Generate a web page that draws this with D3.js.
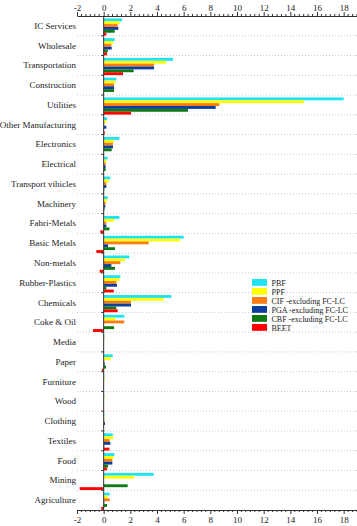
<!DOCTYPE html>
<html>
<head>
<meta charset="utf-8">
<script src="https://cdn.jsdelivr.net/npm/d3@7"></script>
<style>
  body { margin: 0; background: #fff; }
  svg { display: block; font-family: "Liberation Serif", "Times New Roman", serif; }
</style>
</head>
<body>
<div id="chart"></div>
<script>
// sectors, top to bottom
const categories = ["IC Services", "Wholesale", "Transportation", "Construction", "Utilities",
  "Other Manufacturing", "Electronics", "Electrical", "Transport vihicles", "Machinery",
  "Fabri-Metals", "Basic Metals", "Non-metals", "Rubber-Plastics", "Chemicals", "Coke & Oil",
  "Media", "Paper", "Furniture", "Wood", "Clothing", "Textiles", "Food", "Mining", "Agriculture"];

const seriesNames = ["PBF", "PPF", "CIF -excluding FC-LC", "PGA -excluding FC-LC", "CBF -excluding FC-LC", "BEET"];

const pbf  = [1.38, 0.83, 5.2, 0.95, 18.0, 0.25, 1.18, 0.3, 0.5, 0.3, 1.18, 6.0, 1.93, 1.25, 5.08, 1.55, 0.05, 0.68, 0.05, 0.05, 0.05, 0.68, 0.8, 3.75, 0.45];
const ppf  = [1.2, 0.7, 4.68, 0.88, 15.03, 0.2, 0.75, 0.2, 0.4, 0.25, 0.78, 5.75, 1.6, 1.18, 4.5, 0.88, 0.05, 0.55, 0.08, 0.05, 0.05, 0.72, 0.75, 2.3, 0.3];
const cif  = [1.05, 0.57, 3.78, 0.78, 8.68, 0.05, 0.7, 0.15, 0.2, 0.15, 0.2, 3.38, 1.25, 0.95, 2.05, 1.55, 0.02, 0.05, 0.03, 0.02, 0.05, 0.45, 0.65, 0, 0.45];
const pga  = [1.1, 0.6, 3.78, 0.78, 8.4, 0.2, 0.7, 0.15, 0.2, 0.12, 0.2, 0.33, 0.58, 1.0, 2.05, 0, 0.02, 0.08, 0.02, 0.02, 0.1, 0.5, 0.65, 0, 0.05];
const cbf  = [0.83, 0.3, 2.25, 0.78, 6.33, 0.03, 0.6, 0.15, 0.05, 0.07, 0.43, 0.85, 0.85, 0.2, 0.95, 0.78, 0.01, 0.18, 0.01, 0.01, 0.01, 0.05, 0.33, 1.8, 0.25];
const beet = [0.2, 0.25, 1.45, 0.02, 2.05, 0.08, 0.02, 0.02, 0.02, 0.01, -0.25, -0.55, -0.3, 0.75, 1.05, -0.8, 0, -0.12, 0, 0, 0, 0.43, 0.25, -1.8, -0.18];

const xTickValues = [-2, 0, 2, 4, 6, 8, 10, 12, 14, 16, 18];

const colors = ["#1ee3f0", "#ffff00", "#fb7d12", "#0b3d9c", "#0e7a14", "#ff0000"];
const allSeries = [pbf, ppf, cif, pga, cbf, beet];

const width = 357, height = 526;
const yTop = 16, yBottom = 510;

const svg = d3.select('#chart').append('svg')
  .attr('width', width)
  .attr('height', height);

const x = d3.scaleLinear().domain([-2, 19]).range([77, 357]);
const y = d3.scaleBand().domain(categories).range([yTop, yBottom]);
const ySub = d3.scaleBand().domain(d3.range(seriesNames.length))
  .range([2.4, y.bandwidth() - 0.2]);

// dotted grid lines between sectors
const bounds = d3.range(1, categories.length).map(i => yTop + i * y.bandwidth());
svg.append('g').selectAll('line')
  .data(bounds)
  .join('line')
  .attr('x1', x(-2)).attr('x2', x(19))
  .attr('y1', d => d).attr('y2', d => d)
  .attr('stroke', '#c8c8c8')
  .attr('stroke-width', 1)
  .attr('stroke-dasharray', '1,2');

// bars
const rows = [];
categories.forEach((c, i) => {
  allSeries.forEach((s, j) => rows.push({ cat: c, k: j, v: s[i] }));
});
svg.append('g').selectAll('rect')
  .data(rows)
  .join('rect')
  .attr('x', d => x(Math.min(0, d.v)))
  .attr('width', d => Math.abs(x(d.v) - x(0)))
  .attr('y', d => y(d.cat) + ySub(d.k))
  .attr('height', ySub.bandwidth())
  .attr('fill', d => colors[d.k]);

// y axis line at zero with small ticks at sector bounds
svg.append('line')
  .attr('x1', x(0)).attr('x2', x(0))
  .attr('y1', yTop).attr('y2', yBottom)
  .attr('stroke', '#333').attr('stroke-width', 1);
svg.append('g').selectAll('line')
  .data(bounds)
  .join('line')
  .attr('x1', x(0) - 2.5).attr('x2', x(0))
  .attr('y1', d => d).attr('y2', d => d)
  .attr('stroke', '#333');

// category labels
svg.append('g').selectAll('text')
  .data(categories)
  .join('text')
  .attr('x', 76)
  .attr('y', d => y(d) + y.bandwidth() / 2 + 3)
  .attr('text-anchor', 'end')
  .attr('font-size', 9)
  .attr('fill', '#222')
  .text(d => d);

// top and bottom x axes
const minorTicks = d3.range(-6, 58).map(i => i / 3).filter(v => Math.abs(v - Math.round(v / 2) * 2) > 1e-6);

function drawAxis(axis, yPos) {
  const g = svg.append('g').attr('transform', `translate(0,${yPos})`)
    .call(axis.tickValues(xTickValues).tickSize(4).tickSizeOuter(0).tickFormat(d => String(d)));
  g.select('.domain').attr('stroke', '#333');
  g.selectAll('.tick line').attr('stroke', '#333');
  g.selectAll('.tick text')
    .attr('font-family', '"Liberation Serif", serif')
    .attr('font-size', 9)
    .attr('fill', '#222');
  return g;
}

const topAxis = drawAxis(d3.axisTop(x), yTop);
topAxis.selectAll('.tick text').attr('y', -5);
const bottomAxis = drawAxis(d3.axisBottom(x), yBottom);
bottomAxis.selectAll('.tick text').attr('y', 7);

// minor ticks
svg.append('g').selectAll('line')
  .data(minorTicks)
  .join('line')
  .attr('x1', d => x(d)).attr('x2', d => x(d))
  .attr('y1', yTop - 2).attr('y2', yTop)
  .attr('stroke', '#333');
svg.append('g').selectAll('line')
  .data(minorTicks)
  .join('line')
  .attr('x1', d => x(d)).attr('x2', d => x(d))
  .attr('y1', yBottom).attr('y2', yBottom + 2)
  .attr('stroke', '#333');

// legend
const legend = svg.append('g').attr('transform', 'translate(252,279)');
const item = legend.selectAll('g')
  .data(seriesNames)
  .join('g')
  .attr('transform', (d, i) => `translate(0,${i * 9})`);
item.append('rect')
  .attr('width', 15).attr('height', 6.8)
  .attr('fill', (d, i) => colors[i]);
item.append('text')
  .attr('x', 19.5).attr('y', 6.5)
  .attr('font-size', 8)
  .attr('fill', '#222')
  .text(d => d);
</script>
</body>
</html>
